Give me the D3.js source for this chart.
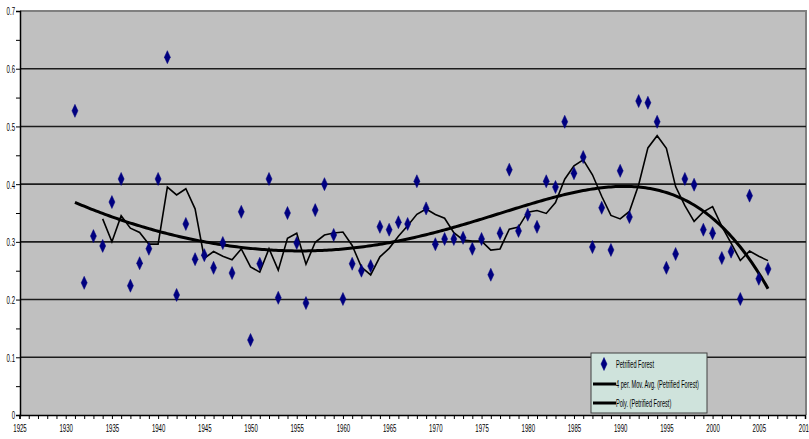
<!DOCTYPE html>
<html>
<head>
<meta charset="utf-8">
<script src="https://cdn.jsdelivr.net/npm/d3@7"></script>
<style>
  html, body { margin: 0; padding: 0; background: #ffffff; }
  svg { display: block; }
  text { font-family: "Liberation Sans", Arial, sans-serif; fill: #000; }
</style>
</head>
<body>
<svg id="chart" width="809" height="439"></svg>
<script>
// Annual values, Petrified Forest, 1931–2006
const firstYear = 1931;
const values = [
  0.527, 0.229, 0.310, 0.293, 0.369, 0.409, 0.224, 0.263, 0.288, 0.409, // 1931-1940
  0.620, 0.208, 0.331, 0.270, 0.277, 0.255, 0.298, 0.246, 0.352, 0.130, // 1941-1950
  0.262, 0.409, 0.203, 0.350, 0.298, 0.194, 0.355, 0.400, 0.312, 0.201, // 1951-1960
  0.262, 0.250, 0.258, 0.326, 0.321, 0.334, 0.331, 0.405, 0.358, 0.296, // 1961-1970
  0.305, 0.305, 0.307, 0.288, 0.305, 0.243, 0.315, 0.425, 0.319, 0.347, // 1971-1980
  0.326, 0.405, 0.395, 0.508, 0.419, 0.447, 0.291, 0.359, 0.286, 0.423, // 1981-1990
  0.343, 0.544, 0.541, 0.508, 0.255, 0.279, 0.409, 0.399, 0.321, 0.315, // 1991-2000
  0.272, 0.283, 0.201, 0.380, 0.236, 0.253                              // 2001-2006
];
const years = values.map((v, i) => firstYear + i);

const xTickYears = [1925, 1930, 1935, 1940, 1945, 1950, 1955, 1960, 1965, 1970,
                    1975, 1980, 1985, 1990, 1995, 2000, 2005, 2010];
const yTickValues = [0, 0.1, 0.2, 0.3, 0.4, 0.5, 0.6, 0.7];
const seriesName = "Petrified Forest";
const legendLabels = [seriesName, "4 per. Mov. Avg. (Petrified Forest)", "Poly. (Petrified Forest)"];
const movingPeriod = 4;
const polyOrder = 5;

const points = years.map((y, i) => ({ year: y, value: values[i] }));

// 4-period trailing moving average
const movAvg = [];
for (let i = movingPeriod - 1; i < values.length; i++) {
  movAvg.push({ year: years[i], value: d3.mean(values.slice(i - movingPeriod + 1, i + 1)) });
}

// Least-squares polynomial trend on a rescaled year variable
function polyFit(xs, ys, order) {
  const n = order + 1;
  const A = Array.from({ length: n }, () => new Array(n + 1).fill(0));
  xs.forEach((x, k) => {
    const pw = [];
    for (let j = 0; j < 2 * n; j++) pw.push(Math.pow(x, j));
    for (let r = 0; r < n; r++) {
      for (let c = 0; c < n; c++) A[r][c] += pw[r + c];
      A[r][n] += pw[r] * ys[k];
    }
  });
  for (let c = 0; c < n; c++) {
    let p = c;
    for (let r = c + 1; r < n; r++) if (Math.abs(A[r][c]) > Math.abs(A[p][c])) p = r;
    [A[c], A[p]] = [A[p], A[c]];
    for (let r = 0; r < n; r++) {
      if (r === c) continue;
      const f = A[r][c] / A[c][c];
      for (let k = c; k <= n; k++) A[r][k] -= f * A[c][k];
    }
  }
  return A.map((row, i) => row[n] / row[i]);
}
const yMid = (years[0] + years[years.length - 1]) / 2;
const yHalf = (years[years.length - 1] - years[0]) / 2;
const scaleYear = y => (y - yMid) / yHalf;
const coef = polyFit(years.map(scaleYear), values, polyOrder);
const polyAt = y => coef.reduce((s, c, j) => s + c * Math.pow(scaleYear(y), j), 0);
const trend = [];
for (let t = years[0]; t <= years[years.length - 1] + 1e-9; t += 0.25) trend.push({ year: t, value: polyAt(t) });

// Layout
const svg = d3.select("#chart");
const plot = { left: 20, right: 806, top: 11, bottom: 415 };

const x = d3.scaleLinear().domain([1925, 2010]).range([19.5, 805]);
const y = d3.scaleLinear().domain([0, 0.7]).range([plot.bottom, plot.top]);

// squeeze text horizontally into a narrow face
function condense(sel, k) {
  sel.each(function () {
    const w = this.getComputedTextLength();
    this.setAttribute("textLength", (w * k).toFixed(2));
    this.setAttribute("lengthAdjust", "spacingAndGlyphs");
  });
}

// plot area
svg.append("rect")
  .attr("x", plot.left).attr("y", plot.top)
  .attr("width", plot.right - plot.left).attr("height", plot.bottom - plot.top)
  .attr("fill", "#c0c0c0");
svg.append("path")
  .attr("d", `M${plot.left},${plot.top}H${plot.right}V${plot.bottom}`)
  .attr("fill", "none").attr("stroke", "#808080").attr("stroke-width", 2);

// horizontal gridlines
svg.append("g").selectAll("line")
  .data(yTickValues.filter(v => v > 0 && v < 0.7))
  .join("line")
  .attr("x1", plot.left).attr("x2", plot.right)
  .attr("y1", d => y(d)).attr("y2", d => y(d))
  .attr("stroke", "#1c1c1c").attr("stroke-width", 1.6);

// y axis
const yAxis = d3.axisLeft(y)
  .tickValues(d3.range(0, 0.7001, 0.05))
  .tickSize(4)
  .tickFormat(d => (Math.abs(d * 10 - Math.round(d * 10)) < 1e-6 ? d3.format("")(Math.round(d * 10) / 10) : ""));
const gy = svg.append("g").attr("transform", `translate(${plot.left},0)`).call(yAxis);
gy.select(".domain").attr("stroke", "#000").attr("stroke-width", 1.5);
gy.selectAll(".tick line").attr("stroke", "#000");
gy.selectAll(".tick text")
  .attr("x", -5).attr("dy", "0.35em")
  .style("font-size", "11px").style("font-family", "\"Liberation Sans\", Arial, sans-serif");
condense(gy.selectAll(".tick text"), 0.55);

// x axis
const xAxis = d3.axisBottom(x)
  .tickValues(d3.range(1925, 2011, 1))
  .tickSize(4)
  .tickFormat(d => (xTickYears.includes(d) ? String(d) : ""));
const gx = svg.append("g").attr("transform", `translate(0,${plot.bottom})`).call(xAxis);
gx.select(".domain").attr("stroke", "#000").attr("stroke-width", 1.5);
gx.selectAll(".tick line").attr("stroke", "#000");
gx.selectAll(".tick text")
  .attr("y", 13).attr("dy", "0.35em")
  .style("font-size", "11px").style("font-family", "\"Liberation Sans\", Arial, sans-serif");
condense(gx.selectAll(".tick text"), 0.55);

// trend lines
const line = d3.line().x(d => x(d.year)).y(d => y(d.value));
svg.append("path").datum(movAvg)
  .attr("d", line).attr("fill", "none")
  .attr("stroke", "#000").attr("stroke-width", 1.6).attr("stroke-linejoin", "miter");
svg.append("path").datum(trend)
  .attr("d", line).attr("fill", "none")
  .attr("stroke", "#000").attr("stroke-width", 3);

// data markers
const diamond = "M0,-6.5L3,0L0,6.5L-3,0Z";
svg.append("g").selectAll("path")
  .data(points)
  .join("path")
  .attr("transform", d => `translate(${x(d.year)},${y(d.value)})`)
  .attr("d", diamond)
  .attr("fill", "#000080").attr("stroke", "#000080").attr("stroke-width", 0.5);

// legend
const lg = svg.append("g").attr("transform", "translate(591,353)");
lg.append("rect").attr("width", 116).attr("height", 60)
  .attr("fill", "#cfe3dc").attr("stroke", "#404040").attr("stroke-width", 1);
lg.append("path").attr("d", diamond).attr("transform", "translate(13,11)")
  .attr("fill", "#000080").attr("stroke", "#000080").attr("stroke-width", 0.5);
[31, 50].forEach(yy => {
  lg.append("line").attr("x1", 2).attr("x2", 25).attr("y1", yy).attr("y2", yy)
    .attr("stroke", "#000").attr("stroke-width", 3);
});
const lt = lg.selectAll("text.lbl").data(legendLabels).join("text")
  .attr("class", "lbl")
  .attr("x", 25).attr("y", (d, i) => [11, 31, 50][i]).attr("dy", "0.35em")
  .style("font-size", "10px")
  .text(d => d);
condense(lt, 0.56);
</script>
</body>
</html>
